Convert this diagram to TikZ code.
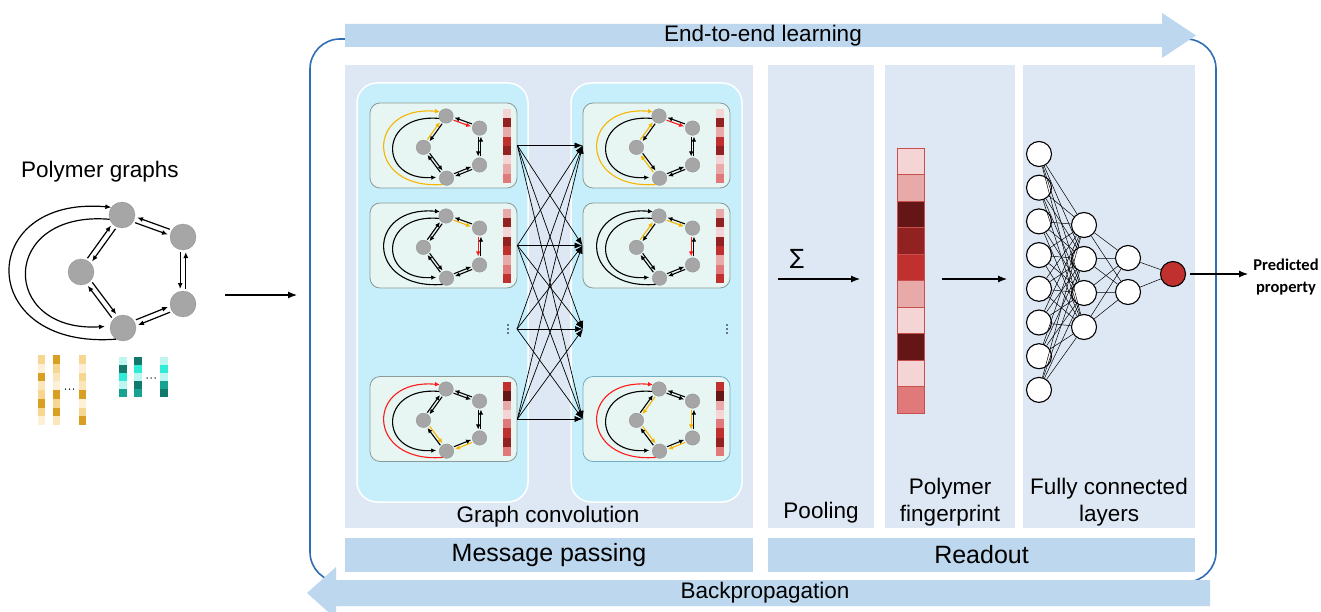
\documentclass[tikz,border=0pt]{standalone}
\usepackage{fontspec}
\setmainfont{Liberation Sans}
\newfontfamily\calfont{Carlito}
\newfontfamily\djv{DejaVu Sans}
\usetikzlibrary{arrows.meta,calc}
\definecolor{panel}{HTML}{DEE8F4}
\definecolor{barblue}{HTML}{BDD7EE}
\definecolor{frameblue}{HTML}{2F6EB5}
\definecolor{cyanbox}{HTML}{C6EFFB}
\definecolor{cardfill}{HTML}{E7F6F3}
\definecolor{cardedge}{HTML}{8A9A98}
\definecolor{ngray}{HTML}{A6A6A6}
\definecolor{gold}{HTML}{F7B500}
\definecolor{hred}{HTML}{FF1A1A}
\definecolor{r1}{HTML}{F4D4D4}
\definecolor{r2}{HTML}{E8A9A9}
\definecolor{r3}{HTML}{E07A7A}
\definecolor{r4}{HTML}{C0302E}
\definecolor{r5}{HTML}{922222}
\definecolor{r6}{HTML}{641616}
\definecolor{o1}{HTML}{F6D690}
\definecolor{o2}{HTML}{FDF0D6}
\definecolor{o3}{HTML}{D89F22}
\definecolor{o4}{HTML}{FBE6BB}
\definecolor{t1}{HTML}{BDF6F0}
\definecolor{t2}{HTML}{30EBD6}
\definecolor{t3}{HTML}{17A38F}
\definecolor{t4}{HTML}{127A6A}

\tikzset{
  eBT/.style={}, eTB/.style={}, eTR/.style={}, eRT/.style={}, eRQ/.style={}, eQR/.style={},
  eQB/.style={}, eBQ/.style={}, eLB/.style={}, eBL/.style={}, eLT/.style={}, eTL/.style={},
  gbig/.style={
    gn/.style={circle,fill=ngray,draw=ngray!85!black,line width=0.3pt,minimum size=26pt,inner sep=0pt},
    ga/.style={line width=1.2pt,-{Latex[length=6pt,width=5pt]}},
    de/.style={ga,shorten <=15pt,shorten >=15pt},
    ishort/.style={shorten >=5pt}},
  gsmall/.style={
    gn/.style={circle,fill=ngray,draw=ngray!85!black,line width=0.3pt,minimum size=14.5pt,inner sep=0pt},
    ga/.style={line width=1.1pt,-{Latex[length=5pt,width=4.6pt]}},
    de/.style={ga,shorten <=8.5pt,shorten >=8.5pt},
    ishort/.style={shorten >=3pt}},
  lbl/.style={font=\fontsize{22.5}{27}\selectfont, align=center, inner sep=0pt},
  barlbl/.style={fill=barblue, font=\fontsize{25}{30}\selectfont, inner sep=0pt},
  card/.style={draw=cardedge, fill=cardfill, line width=0.8pt, rounded corners=10pt,
    minimum width=147pt, minimum height=85pt, inner sep=0pt},
  fc/.style={circle, draw=black, fill=white, line width=1.1pt, minimum size=25pt, inner sep=0pt},
  fan/.style={line width=0.7pt, -{Latex[length=8pt,width=6pt]}},
  bigarrow/.style={line width=1.2pt, -{Latex[length=9pt,width=7pt]}},
  dot/.style={circle, fill=black, inner sep=0pt, minimum size=1.8pt}
}

\newcommand{\dR}[3]{\draw[de,#3] ($(#1)!\doff!-90:(#2)$) -- ($(#2)!\doff!90:(#1)$);}
\newcommand{\dL}[3]{\draw[de,#3] ($(#1)!\doff!90:(#2)$) -- ($(#2)!\doff!-90:(#1)$);}
\newcommand{\pgraph}[1]{%
  \node[gn] (#1T) at (0,0) {};
  \node[gn] (#1R) at (61,22) {};
  \node[gn] (#1L) at (-41,57) {};
  \node[gn] (#1Q) at (61,89) {};
  \node[gn] (#1B) at (1,113) {};
  \draw[ga,eBT] (#1B.238) .. controls (-147,135) and (-147,-20) .. (#1T.144);
  \draw[ga,ishort,eTB] (#1T.199) .. controls (-123,-5) and (-123,118) .. (#1B.172);
  \dR{#1T}{#1R}{eTR}\dR{#1R}{#1T}{eRT}
  \dR{#1R}{#1Q}{eRQ}\dR{#1Q}{#1R}{eQR}
  \dL{#1Q}{#1B}{eQB}\dL{#1B}{#1Q}{eBQ}
  \dL{#1L}{#1B}{eLB}\dL{#1B}{#1L}{eBL}
  \dL{#1L}{#1T}{eLT}\dL{#1T}{#1L}{eTL}
}
% x, ytop, width, cell height, colour list
\newcommand{\colbar}[5]{%
  \foreach \c [count=\i from 0] in {#5} {\fill[\c] (#1,{#2+\i*#4}) rectangle ++(#3,#4);}
}

\begin{document}
\begin{tikzpicture}[x=1pt,y=-1pt]
\useasboundingbox (0,0) rectangle (1321,612);
\fill[white] (0,0) rectangle (1321,612);

% outer frame
\draw[frameblue, line width=1.6pt, rounded corners=30pt] (310,39) rectangle (1216,582);

% top and bottom arrows
\fill[barblue] (345,24) -- (1162,24) -- (1162,13) -- (1196,35.5) -- (1162,58) -- (1162,47) -- (345,47) -- cycle;
\node[lbl] (e2e) at (763,36) {End-to-end learning};
\fill[barblue] (1210,580) -- (336,580) -- (336,567) -- (307,593) -- (336,619) -- (336,606) -- (1210,606) -- cycle;
\node[lbl] (bp) at (765,593) {Backpropagation};

% panels
\fill[panel] (345,65) rectangle (753,528);
\fill[panel] (768,65) rectangle (874,528);
\fill[panel] (885,65) rectangle (1015,528);
\fill[panel] (1023,65) rectangle (1195,528);
\node[barlbl, minimum width=408pt, minimum height=34pt] (mp) at (549,555) {Message passing};
\node[barlbl, minimum width=427pt, minimum height=34pt] (ro) at (981.5,555) {Readout};

% cyan boxes
\draw[white, line width=1.5pt, fill=cyanbox, rounded corners=20pt] (357,83) rectangle (528,502);
\draw[white, line width=1.5pt, fill=cyanbox, rounded corners=20pt] (571,83) rectangle (742,502);

% panel labels
\node[lbl] (gc) at (548,517) {Graph convolution};
\node[lbl] (pl) at (821,513) {Pooling};
\node[lbl] (pf) at (950,502) {Polymer\\fingerprint};
\node[lbl] (fcl) at (1109,502) {Fully connected\\layers};

% cards
\node[card] (cL1) at (443.5,145.5) {};
\node[card] (cL2) at (443.5,245.5) {};
\node[card] (cL3) at (443.5,419) {};
\node[card] (cR1) at (656.5,145.5) {};
\node[card] (cR2) at (656.5,245.5) {};
\node[card, draw=cyan!40!cardedge] (cR3) at (656.5,419) {};

% bars in cards
\colbar{503}{109}{8}{9.25}{r1,r5,r2,r4,r5,r1,r2,r3}
\colbar{503}{209}{8}{9.25}{r2,r5,r1,r5,r4,r2,r3,r4}
\colbar{503}{382}{8}{9.25}{r4,r6,r2,r1,r3,r4,r5,r3}
\colbar{716}{109}{8}{9.25}{r1,r5,r2,r4,r5,r1,r2,r3}
\colbar{716}{209}{8}{9.25}{r2,r5,r1,r5,r4,r2,r3,r4}
\colbar{716}{382}{8}{9.25}{r4,r6,r2,r1,r3,r4,r5,r3}

% small graphs
\begin{scope}[shift={(446,116)},scale=0.55,gsmall,eBT/.style={draw=gold},eLT/.style={draw=gold},eTR/.style={draw=hred}]
\def\doff{2.5pt}\pgraph{a}
\end{scope}
\begin{scope}[shift={(446,216)},scale=0.55,gsmall,eTR/.style={draw=gold},eRQ/.style={draw=hred}]
\def\doff{2.5pt}\pgraph{b}
\end{scope}
\begin{scope}[shift={(446,389)},scale=0.55,gsmall,eBT/.style={draw=hred},eLB/.style={draw=gold},eQB/.style={draw=gold}]
\def\doff{2.5pt}\pgraph{c}
\end{scope}
\begin{scope}[shift={(659,116)},scale=0.55,gsmall,eBT/.style={draw=gold},eLT/.style={draw=gold},eBL/.style={draw=gold},eTR/.style={draw=hred}]
\def\doff{2.5pt}\pgraph{d}
\end{scope}
\begin{scope}[shift={(659,216)},scale=0.55,gsmall,eLT/.style={draw=gold},eTR/.style={draw=gold},eRQ/.style={draw=hred}]
\def\doff{2.5pt}\pgraph{e}
\end{scope}
\begin{scope}[shift={(659,389)},scale=0.55,gsmall,eBT/.style={draw=hred},eTL/.style={draw=gold},eLB/.style={draw=gold},eRQ/.style={draw=gold},eQB/.style={draw=gold}]
\def\doff{2.5pt}\pgraph{f}
\end{scope}

% fan connections
\coordinate (dotsL) at (517,329);
\coordinate (dotsR) at (583,329);
\foreach \k in {-4,0,4} {\node[dot] at (508,329+\k) {}; \node[dot] at (727,329+\k) {};}
\foreach \s in {cL1.east, cL2.east, dotsL, cL3.east}
  \foreach \t in {cR1.west, cR2.west, dotsR, cR3.west}
    \draw[fan] (\s) -- (\t);

% polymer graph (left)
\node[lbl] (pg) at (100,172) {Polymer graphs};
\begin{scope}[shift={(122,215)},gbig]
\def\doff{2.8pt}\pgraph{g}
\end{scope}
\colbar{38}{355}{7}{8.75}{o1,o2,o3,o4,o1,o3,o1,o2}
\colbar{53}{355}{7}{8.75}{o3,o1,o4,o2,o3,o1,o3,o4}
\colbar{79}{355}{7}{8.75}{o1,o2,o1,o4,o3,o2,o1,o3}
\colbar{119}{357}{8}{8}{t1,t4,t2,t1,t3}
\colbar{134}{357}{8}{8}{t4,t2,t1,t4,t3}
\colbar{160}{357}{8}{8}{t1,t2,t1,t3,t4}
\foreach \k in {-4,0,4} {\node[dot, minimum size=1.5pt] at (69.5+\k,389) {}; \node[dot, minimum size=1.5pt] at (151+\k,378) {};}
\coordinate (ga1) at (225,295);
\coordinate (ga2) at (297,295);
\draw[bigarrow] (ga1) -- (ga2);

% pooling
\node[inner sep=0pt, font=\djv\fontsize{21}{21}\selectfont] (sig) at (797,259) {∑};
\coordinate (pa1) at (778,279);
\coordinate (pa2) at (860,279);
\draw[bigarrow] (pa1) -- (pa2);

% fingerprint
\colbar{897}{148}{27}{26.5}{r1,r2,r6,r5,r4,r2,r1,r6,r1,r3}
\foreach \i in {0,...,9} \draw[r4!85!white, line width=0.8pt] (897,{148+\i*26.5}) rectangle ++(27,26.5);
\coordinate (fa1) at (942,279);
\coordinate (fa2) at (1007,279);
\draw[bigarrow] (fa1) -- (fa2);

% fully connected layers
\foreach \i in {1,...,8} \node[fc] (a\i) at (1039,{154+33.7*(\i-1)}) {};
\foreach \i in {1,...,4} \node[fc] (b\i) at (1084,{225+34*(\i-1)}) {};
\node[fc] (c1) at (1128,258) {};
\node[fc] (c2) at (1128,292) {};
\node[fc, fill=r4] (out) at (1173,274) {};
\foreach \i in {1,...,8} \foreach \j in {1,...,4} \draw[line width=0.5pt] (a\i) -- (b\j);
\foreach \i in {1,...,4} \foreach \j in {1,2} \draw[line width=0.5pt] (b\i) -- (c\j);
\foreach \j in {1,2} \draw[line width=0.5pt] (c\j) -- (out);
\coordinate (ptip) at (1248,274);
\draw[bigarrow, shorten <=4pt] (out) -- (ptip);
\node[font=\calfont\bfseries\fontsize{16.5}{22}\selectfont, align=center, inner sep=0pt] (pp) at (1286,277) {Predicted\\property};
\end{tikzpicture}
\end{document}
